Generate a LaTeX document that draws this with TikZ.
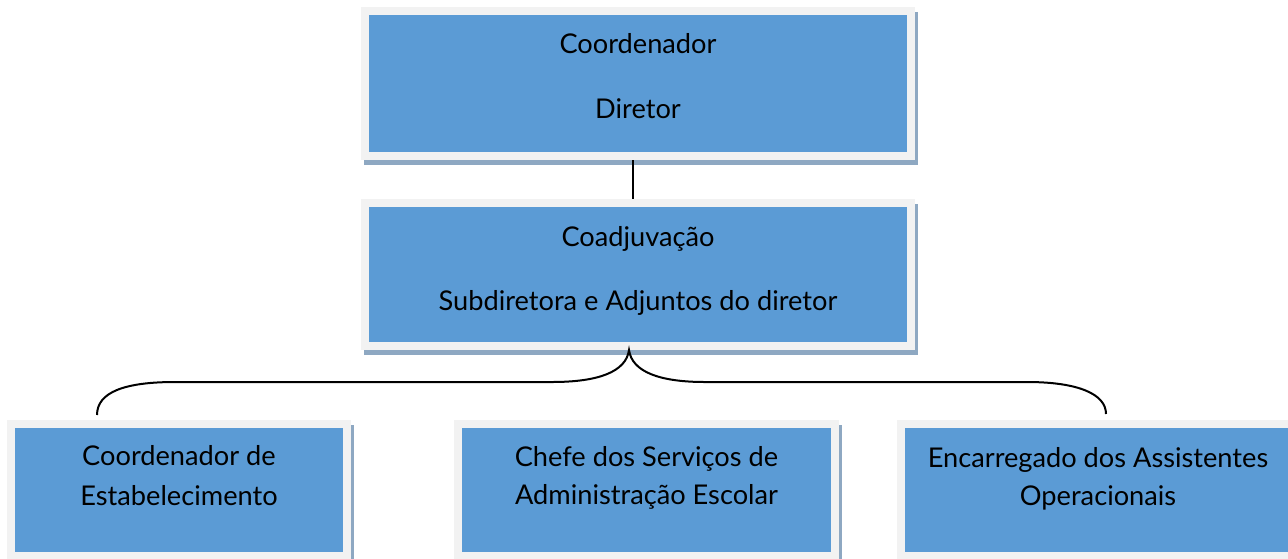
\documentclass[tikz,border=0pt]{standalone}
\usepackage{fontspec}
\setmainfont{Lato}
\definecolor{boxblue}{HTML}{5B9BD5}
\definecolor{framegray}{HTML}{F2F2F2}
\definecolor{shadowc}{HTML}{8EA8C2}
\begin{document}
\begin{tikzpicture}[x=0.5pt,y=-0.5pt,
  orgbox/.style={rectangle, inner sep=0pt, outer sep=4pt, fill=boxblue,
    preaction={fill=shadowc, draw=shadowc, line width=8pt, transform canvas={shift={(3,5)}}},
    preaction={draw=framegray, line width=8pt}},
  txt/.style={font=\fontsize{13.6}{16}\selectfont, inner sep=0pt, anchor=base},
  conn/.style={draw=black, line width=1pt}]
\useasboundingbox (0,0) rectangle (1288,558);
\clip (0,0) rectangle (1288,558);
% top box
\node[orgbox, minimum width=269pt, minimum height=68.5pt] (dir) at (638,83.5) {};
\node[txt] (dirA) at (638,53) {Coordenador};
\node[txt] (dirB) at (638,118) {Diretor};
% second box
\node[orgbox, minimum width=269pt, minimum height=67.5pt] (coad) at (638,274.5) {};
\node[txt] (coadA) at (638,246) {Coadjuvação};
\node[txt] (coadB) at (638,310) {Subdiretora e Adjuntos do diretor};
% bottom boxes
\node[orgbox, minimum width=164pt, minimum height=62pt] (ce) at (179,490) {};
\node[txt] (ceA) at (179,465) {Coordenador de};
\node[txt] (ceB) at (179,505) {Estabelecimento};
\node[orgbox, minimum width=184.5pt, minimum height=62pt] (cs) at (646.5,490) {};
\node[txt] (csA) at (646.5,466) {Chefe dos Serviços de};
\node[txt] (csB) at (646.5,504) {Administração Escolar};
\node[orgbox, minimum width=193pt, minimum height=62pt] (ea) at (1098,490) {};
\node[txt] (eaA) at (1098,467) {Encarregado dos Assistentes};
\node[txt] (eaB) at (1098,505) {Operacionais};
% connectors
\draw[conn] ([xshift=-2.5pt]dir.south) -- ([xshift=-2.5pt]coad.north);
\coordinate (peak) at ([xshift=-4.5pt]coad.south);
\coordinate (bl) at (97,415);
\coordinate (br) at (1106,414);
\draw[conn] (bl) .. controls (97,392) and (125,382) .. (175,382) -- (552,382)
  .. controls (598,382) and (626,372) .. (peak)
  .. controls (632,372) and (660,382) .. (705,382) -- (1027,382)
  .. controls (1078,382) and (1106,394) .. (br);
\end{tikzpicture}
\end{document}
